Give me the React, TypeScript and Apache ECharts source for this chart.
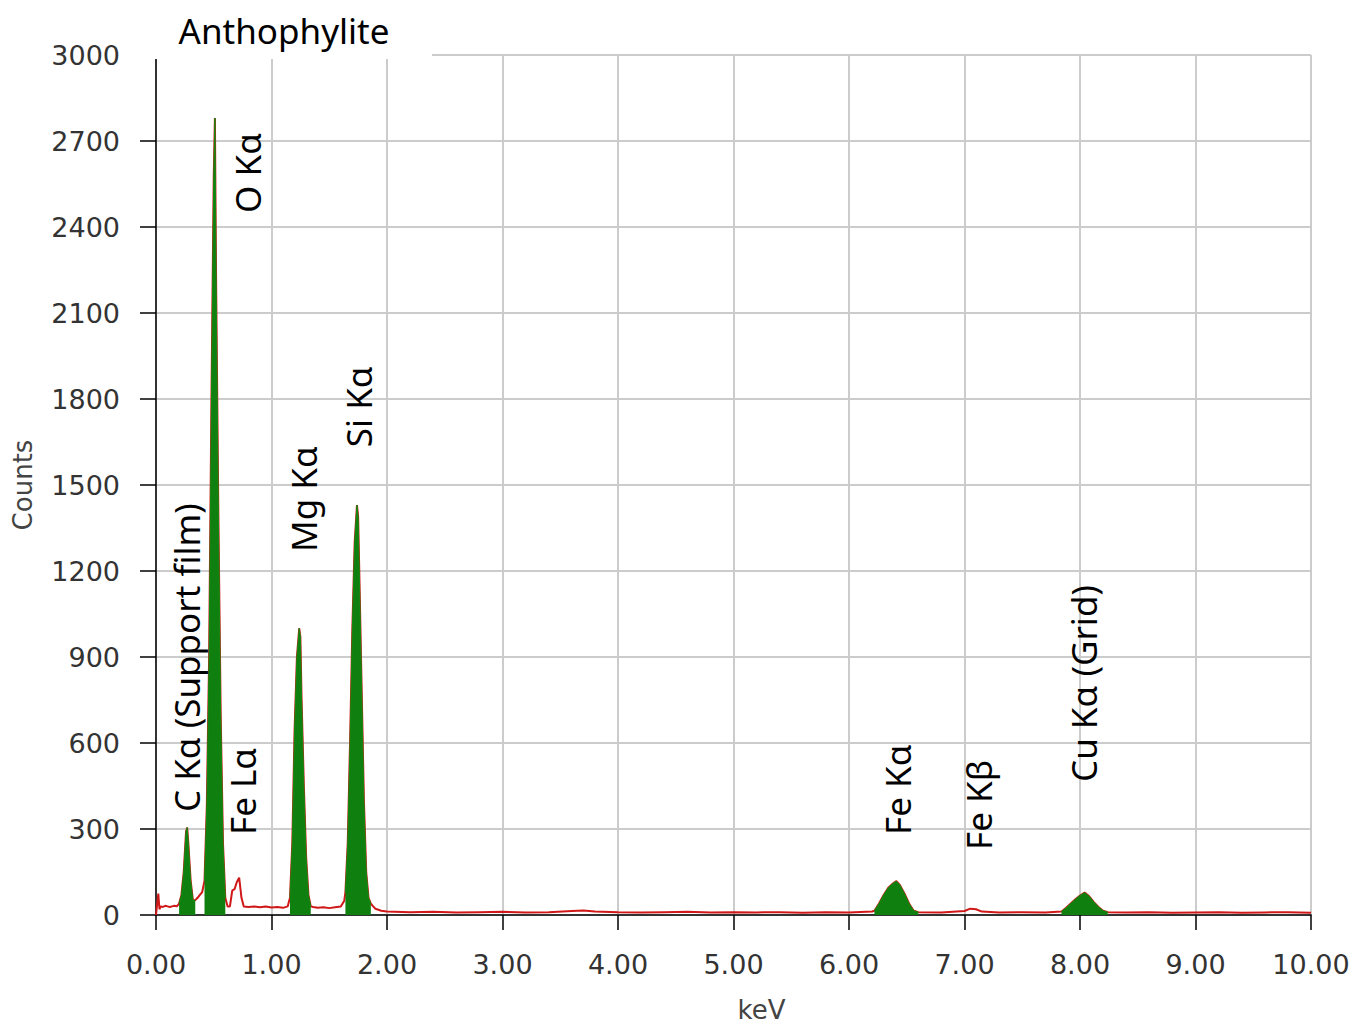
import React, { useEffect, useRef } from "react";
import * as echarts from "echarts";

const spectrumKeV = [
  0.0, 0.02, 0.03, 0.04, 0.06, 0.08, 0.1, 0.12, 0.14, 0.16, 0.18, 0.2,
  0.22, 0.24, 0.26, 0.27, 0.28, 0.3, 0.32, 0.34, 0.36, 0.38, 0.4,
  0.42, 0.44, 0.46, 0.48, 0.5, 0.51, 0.52, 0.54, 0.56, 0.58, 0.6,
  0.62, 0.64, 0.66, 0.68, 0.7, 0.72, 0.74, 0.76, 0.8, 0.85, 0.9, 0.95, 1.0, 1.05, 1.1, 1.14,
  1.16, 1.18, 1.2, 1.22, 1.24, 1.25, 1.26, 1.28, 1.3, 1.32, 1.34,
  1.36, 1.4, 1.45, 1.5, 1.55, 1.6, 1.63,
  1.64, 1.66, 1.68, 1.7, 1.72, 1.74, 1.75, 1.76, 1.78, 1.8, 1.82, 1.84, 1.86,
  1.88, 1.9, 1.95, 2.0,
  2.2, 2.4, 2.6, 2.8, 3.0, 3.2, 3.4, 3.6, 3.7, 3.8, 4.0, 4.2, 4.4, 4.6, 4.8, 5.0, 5.2, 5.4, 5.6, 5.8, 6.0, 6.2,
  6.22, 6.26, 6.3, 6.34, 6.38, 6.41, 6.44, 6.48, 6.52, 6.56, 6.6,
  6.8, 7.0, 7.05, 7.1, 7.15, 7.3, 7.5, 7.7, 7.84,
  7.88, 7.92, 7.96, 8.0, 8.04, 8.08, 8.12, 8.16, 8.2, 8.24,
  8.4, 8.6, 8.8, 9.0, 9.2, 9.4, 9.6, 9.8, 10.0,
];

const spectrumCounts = [
  0, 75, 20, 30, 28, 32, 30, 28, 30, 32, 30, 40,
  70, 150, 290, 305, 250, 120, 50, 52, 60, 70, 80,
  120, 380, 900, 1800, 2580, 2780, 2230, 1400, 700, 250, 60,
  30, 30, 85, 90, 115, 130, 60, 30, 28, 30, 27, 30, 26, 28, 25, 30,
  60, 250, 650, 900, 1000, 970, 760, 450, 200, 70, 30,
  28, 25, 27, 24, 27, 30, 50,
  80, 250, 600, 1000, 1300, 1430, 1390, 1200, 800, 400, 150, 60, 40,
  30, 22, 15, 12,
  10, 11, 9, 10, 11, 9, 10, 14, 16, 12, 10, 9, 10, 11, 9, 10, 9, 10, 8, 10, 9, 12,
  15, 40, 70, 95, 110, 118, 105, 75, 40, 15, 10,
  9, 14, 22, 20, 12, 9, 10, 9, 12,
  25, 40, 55, 68, 78, 65, 45, 28, 15, 10,
  9, 10, 8, 9, 10, 8, 9, 10, 8,
];

// Energy windows of the identified (green-filled) peaks
const peakWindows: [number, number][] = [
  [0.2, 0.34],
  [0.42, 0.6],
  [1.16, 1.34],
  [1.64, 1.86],
  [6.22, 6.6],
  [7.84, 8.24],
];

const peakLabels = ["C Kα (Support film)", "Fe Lα", "O Kα", "Mg Kα", "Si Kα", "Fe Kα", "Fe Kβ", "Cu Kα (Grid)"];
const labelKeV = [0.26, 0.753, 0.788, 1.273, 1.749, 6.416, 7.117, 8.026];
const labelCounts = [359, 279, 2449, 1266, 1632, 279, 227, 464];

const yTicks = [0, 300, 600, 900, 1200, 1500, 1800, 2100, 2400, 2700, 3000];
const xTicks = [0, 1, 2, 3, 4, 5, 6, 7, 8, 9, 10];
const chartTitle = "Anthophylite";

const tickFont = '"DejaVu Sans", sans-serif';
const annoFont = '"Noto Sans", "Open Sans", sans-serif';

export default function App() {
  const ref = useRef<HTMLDivElement>(null);
  useEffect(() => {
    if (!ref.current) return;
    const chart = echarts.init(ref.current, null, { renderer: "svg" });
    const full = spectrumKeV.map((k, i) => [k, spectrumCounts[i]]);
    const green = spectrumKeV.map((k, i) => {
      const inside = peakWindows.some(([a, b]) => k >= a - 1e-9 && k <= b + 1e-9);
      return [k, inside ? spectrumCounts[i] : "-"];
    });
    chart.setOption({
      animation: false,
      backgroundColor: "#ffffff",
      grid: {
        left: 156,
        right: 57,
        top: 55,
        bottom: 113,
        show: true,
        borderColor: "#000",
        borderWidth: 1,
        containLabel: false,
        outerBoundsMode: "none",
      },
      xAxis: {
        type: "value",
        min: xTicks[0],
        max: xTicks[xTicks.length - 1],
        interval: 1,
        name: "keV",
        nameLocation: "middle",
        nameGap: 82,
        nameTextStyle: { fontFamily: tickFont, fontSize: 26, color: "#444", padding: [0, 0, 0, 56] },
        axisLine: { show: true, onZero: false, lineStyle: { color: "#000", width: 1.5 } },
        axisTick: { show: true, length: 15, lineStyle: { color: "#000", width: 1.5 } },
        axisLabel: {
          margin: 36,
          fontFamily: tickFont,
          fontSize: 27,
          color: "#333",
          formatter: (v: number) => v.toFixed(2),
        },
        splitLine: { show: true, lineStyle: { color: "#cccccc", width: 2 } },
      },
      yAxis: {
        type: "value",
        min: yTicks[0],
        max: yTicks[yTicks.length - 1],
        interval: 300,
        name: "Counts",
        nameLocation: "middle",
        nameGap: 120,
        nameRotate: 90,
        nameTextStyle: { fontFamily: tickFont, fontSize: 26, color: "#444" },
        axisLine: { show: true, onZero: false, lineStyle: { color: "#000", width: 1.5 } },
        axisTick: { show: true, length: 16, lineStyle: { color: "#000", width: 1.5 } },
        axisLabel: {
          margin: 36,
          fontFamily: tickFont,
          fontSize: 27,
          color: "#333",
          formatter: (v: number) => String(v),
        },
        splitLine: { show: true, lineStyle: { color: "#cccccc", width: 2 } },
      },
      series: [
        {
          type: "line",
          name: "spectrum",
          data: full,
          symbol: "none",
          z: 2,
          lineStyle: { color: "#d01818", width: 2 },
        },
        {
          type: "line",
          name: "peaks",
          data: green,
          symbol: "none",
          connectNulls: false,
          z: 3,
          lineStyle: { color: "#118a11", width: 1 },
          areaStyle: { color: "#0f800f", opacity: 1 },
        },
      ],
    });

    const texts = peakLabels.map((label, i) => {
      const p = chart.convertToPixel({ gridIndex: 0 }, [labelKeV[i], labelCounts[i]]) as number[];
      return {
        type: "text",
        x: p[0],
        y: p[1],
        rotation: Math.PI / 2,
        z: 50,
        style: {
          text: label,
          font: `35px ${annoFont}`,
          fill: "#000",
          textAlign: "left",
          textVerticalAlign: "middle",
        },
      };
    });
    chart.setOption({
      graphic: [
        {
          type: "rect",
          z: 40,
          shape: { x: 128, y: 0, width: 304, height: 59 },
          style: { fill: "#ffffff" },
        },
        {
          type: "text",
          z: 50,
          x: 284,
          y: 30,
          style: {
            text: chartTitle,
            font: `35px ${annoFont}`,
            fill: "#000",
            textAlign: "center",
            textVerticalAlign: "middle",
          },
        },
        ...texts,
      ],
    });
    return () => chart.dispose();
  }, []);
  return (
    <div
      ref={ref}
      style={{ position: "absolute", left: 0, top: 0, width: 1368, height: 1028 }}
    />
  );
}
